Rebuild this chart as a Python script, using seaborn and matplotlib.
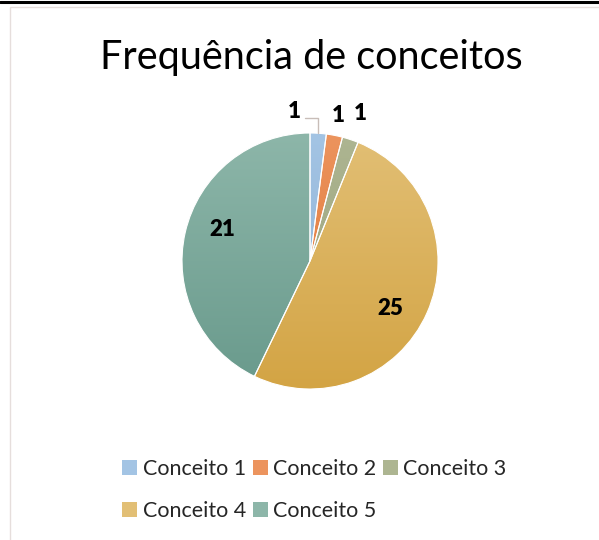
import numpy as np
import matplotlib
matplotlib.use("Agg")
import matplotlib.pyplot as plt
import seaborn as sns
from matplotlib.colors import LinearSegmentedColormap
from matplotlib.lines import Line2D
from matplotlib.patches import Rectangle, Patch

# dados
categorias = ["Conceito 1", "Conceito 2", "Conceito 3", "Conceito 4", "Conceito 5"]
frequencias = [1, 1, 1, 25, 21]
cores_topo = ["#a3c4e4", "#ec945e", "#adb591", "#e2bf75", "#8db6a9"]
cores_base = ["#8aaed2", "#dd6f2e", "#98a07a", "#d3a444", "#699a8c"]

sns.set_theme(style="white")
plt.rcParams["font.family"] = ["Lato", "DejaVu Sans"]

fig = plt.figure(figsize=(5.99, 5.40), dpi=100)
fig.patch.set_facecolor("white")

# moldura
fig.add_artist(Line2D([0, 1], [0.9963, 0.9963], transform=fig.transFigure,
                      color="black", lw=2.2))
fig.add_artist(Rectangle((9.5 / 599, -0.01), 1.0, 1 - 6.5 / 540 + 0.01,
                         transform=fig.transFigure, fill=False,
                         edgecolor="#e6dedc", lw=1.0))

fig.text(311 / 599, 1 - 57 / 540, "Frequência de conceitos", ha="center",
         va="center", fontsize=28.5, color="black")

ax = fig.add_axes([(310 - 128) / 599, (540 - 261 - 128) / 540, 256 / 599, 256 / 540])
wedges, _ = ax.pie(frequencias, startangle=90, counterclock=False,
                   colors=cores_topo, wedgeprops=dict(edgecolor="white", linewidth=0.8))
ax.set_xlim(-1, 1)
ax.set_ylim(-1, 1)
ax.set_aspect("equal")
ax.axis("off")

# gradiente vertical em cada fatia
grad = np.linspace(0, 1, 256).reshape(-1, 1)
for w, c0, c1 in zip(wedges, cores_topo, cores_base):
    cmap = LinearSegmentedColormap.from_list("g", [c1, c0])
    im = ax.imshow(grad, cmap=cmap, extent=(-1, 1, -1, 1), origin="lower",
                   aspect="auto", zorder=w.get_zorder() - 0.1)
    im.set_clip_path(w)
    w.set_facecolor("none")
ax.set_xlim(-1, 1)
ax.set_ylim(-1, 1)

# rótulos
desloc_pequenos = [(-0.12, 1.165), (0.22, 1.14), (0.39, 1.155)]
k = 0
for w, v in zip(wedges, frequencias):
    ang = np.deg2rad((w.theta1 + w.theta2) / 2 - 7)
    if v > 5:
        x, y = 0.73 * np.cos(ang), 0.73 * np.sin(ang)
    else:
        x, y = desloc_pequenos[k]
        if k == 0:
            xm = np.cos(np.deg2rad((w.theta1 + w.theta2) / 2))
            ax.plot([xm, xm, x + 0.08], [1.0, 1.12, 1.12], color="#c8bdb8",
                    lw=1.0, clip_on=False)
        k += 1
    ax.text(x, y, str(v), ha="center", va="center", fontsize=16,
            fontweight="heavy", color="black")

# legenda
handles = [Patch(facecolor=c, edgecolor="none") for c in cores_topo]
ordem = [0, 3, 1, 4, 2]
fig.legend([handles[i] for i in ordem], [categorias[i] for i in ordem],
           ncol=3, loc="upper left", bbox_to_anchor=(103 / 599, 1 - 440 / 540),
           frameon=False, fontsize=15.5, handlelength=0.7, handleheight=0.7,
           handletextpad=0.25, columnspacing=0.3, labelspacing=1.0)

fig.savefig("out.png", dpi=100)
